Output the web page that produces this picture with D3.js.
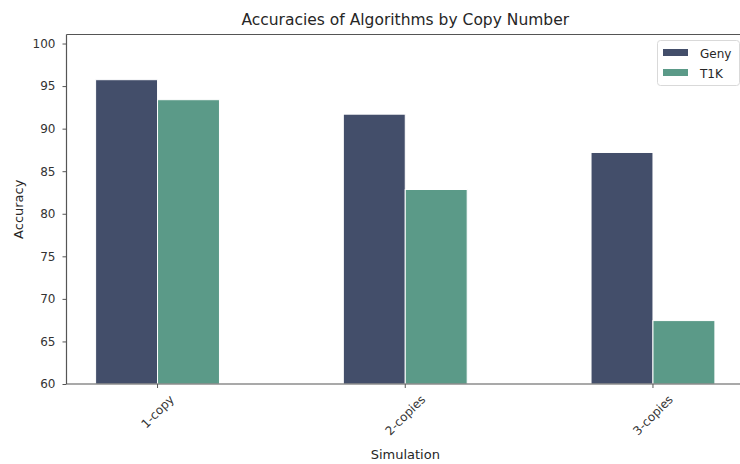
<!DOCTYPE html>
<html lang="en">
<head>
<meta charset="utf-8">
<script src="https://d3js.org/d3.v7.min.js"></script>
<style>
  body { margin: 0; background: #fff; }
  text { font-family: "DejaVu Sans", sans-serif; fill: #262626; }
</style>
</head>
<body>
<div id="chart"></div>
<script>
// data
var categories = ["1-copy", "2-copies", "3-copies"];
var series = ["Geny", "T1K"];
var geny = [95.75, 91.7, 87.2];
var t1k = [93.4, 82.85, 67.45];
var yTicks = [60, 65, 70, 75, 80, 85, 90, 95, 100];

var colors = { Geny: "#434e6a", T1K: "#5b9a88" };
var values = { Geny: geny, T1K: t1k };

var width = 740, height = 464;
var mLeft = 66.5, mRight = 744, mTop = 34.5, mBottom = 384;
var barW = 0.25;
var axisColor = "#555";

var svg = d3.select("#chart").append("svg")
  .attr("width", width)
  .attr("height", height);

var x = d3.scaleLinear().domain([-0.3675, 2.3675]).range([mLeft, mRight]);
var y = d3.scaleLinear().domain([60, 101.06]).range([mBottom, mTop]);

// bars
series.forEach(function (s, si) {
  svg.selectAll(".bar-" + s)
    .data(values[s])
    .enter().append("rect")
    .attr("class", "bar-" + s)
    .attr("x", function (d, i) { return x(i - barW + si * barW); })
    .attr("width", x(barW) - x(0))
    .attr("y", function (d) { return y(d); })
    .attr("height", function (d) { return y(60) - y(d); })
    .attr("fill", colors[s])
    .attr("stroke", "#ffffff")
    .attr("stroke-width", 1);
});

// y axis
var yAxis = d3.axisLeft(y).tickValues(yTicks).tickSize(4).tickPadding(7);
var gy = svg.append("g").attr("transform", "translate(" + mLeft + ",0)").call(yAxis);
gy.select(".domain").remove();
gy.selectAll("line").attr("stroke", axisColor);
gy.selectAll("text").style("font-size", "12px").style("fill", "#333");

// x axis ticks
var gx = svg.append("g");
categories.forEach(function (c, i) {
  var cx = x(i);
  gx.append("line")
    .attr("x1", cx).attr("x2", cx)
    .attr("y1", mBottom).attr("y2", mBottom + 4)
    .attr("stroke", axisColor);
  var t = gx.append("text")
    .attr("text-anchor", "middle")
    .attr("dy", "0.35em")
    .style("font-size", "12px")
    .style("fill", "#333")
    .text(c);
  var w = t.node().getComputedTextLength();
  var half = (w + 12) * Math.SQRT1_2 / 2;
  var cy = mBottom + 9 + half;
  t.attr("transform", "translate(" + cx + "," + cy + ") rotate(-45)");
});

// spines
[[mLeft, mTop, mLeft, mBottom], [mLeft, mBottom, mRight, mBottom],
 [mLeft, mTop, mRight, mTop], [mRight, mTop, mRight, mBottom]].forEach(function (p) {
  svg.append("line")
    .attr("x1", p[0]).attr("y1", p[1]).attr("x2", p[2]).attr("y2", p[3])
    .attr("stroke", axisColor).attr("stroke-width", 1.2);
});

// title and labels
svg.append("text")
  .attr("x", (mLeft + mRight) / 2).attr("y", 25)
  .attr("text-anchor", "middle")
  .style("font-size", "15.5px")
  .text("Accuracies of Algorithms by Copy Number");

svg.append("text")
  .attr("x", x(1)).attr("y", 459)
  .attr("text-anchor", "middle")
  .style("font-size", "13px")
  .text("Simulation");

svg.append("text")
  .attr("transform", "translate(23," + (mTop + mBottom) / 2 + ") rotate(-90)")
  .attr("text-anchor", "middle")
  .style("font-size", "13px")
  .text("Accuracy");

// legend
var lg = svg.append("g").attr("transform", "translate(657.5,40.5)");
lg.append("rect")
  .attr("width", 82).attr("height", 45)
  .attr("rx", 3)
  .attr("fill", "#fff")
  .attr("stroke", "#d9d9d9");
series.forEach(function (s, i) {
  lg.append("rect")
    .attr("x", 5.5).attr("y", 8.5 + i * 20)
    .attr("width", 25).attr("height", 7)
    .attr("fill", colors[s]);
  lg.append("text")
    .attr("x", 42.5).attr("y", 17 + i * 20)
    .style("font-size", "12px")
    .text(s);
});
</script>
</body>
</html>
